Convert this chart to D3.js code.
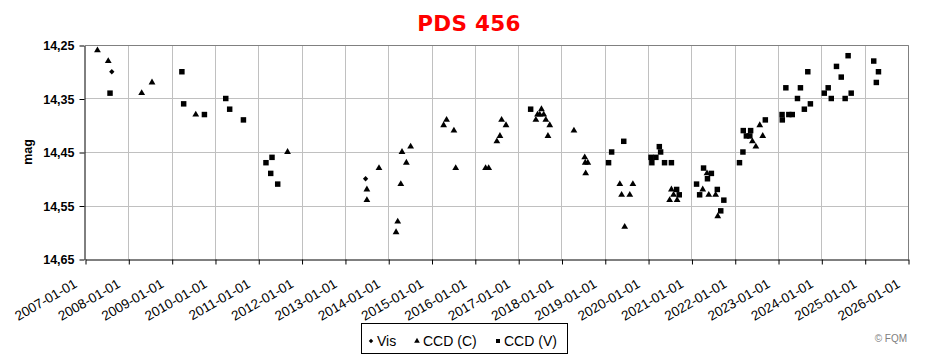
<!DOCTYPE html>
<html>
<head>
<meta charset="utf-8">
<script src="https://cdn.jsdelivr.net/npm/d3@7"></script>
<style>
	body { margin: 0; background: #fff; }
	svg { display: block; font-family: Arial, 'Liberation Sans', sans-serif; }
</style>
</head>
<body>
<svg id="chart" width="933" height="361"></svg>
<script>
// PDS 456 light curve
const visData = [
	['2007-08-15', 14.30], ['2013-06-24', 14.50]
];

const ccdcData = [
	['2007-04-16', 14.26], ['2007-07-16', 14.28], ['2008-04-23', 14.34], ['2008-07-19', 14.32],
	['2009-07-23', 14.38], ['2011-09-05', 14.45], ['2013-07-05', 14.52], ['2013-07-05', 14.54],
	['2013-10-15', 14.48], ['2014-03-08', 14.60], ['2014-03-22', 14.58], ['2014-04-17', 14.51],
	['2014-04-27', 14.45], ['2014-06-03', 14.47], ['2014-07-09', 14.44], ['2015-04-13', 14.40],
	['2015-05-08', 14.39], ['2015-07-09', 14.41], ['2015-07-24', 14.48], ['2016-04-01', 14.48],
	['2016-04-27', 14.48], ['2016-07-05', 14.43], ['2016-07-31', 14.42], ['2016-08-14', 14.39],
	['2016-09-20', 14.40], ['2017-05-30', 14.39], ['2017-06-13', 14.38], ['2017-07-02', 14.38],
	['2017-07-16', 14.37], ['2017-08-04', 14.38], ['2017-08-22', 14.39], ['2017-09-09', 14.42],
	['2017-09-24', 14.40], ['2018-04-16', 14.41], ['2018-07-16', 14.46], ['2018-07-20', 14.47],
	['2018-07-24', 14.49], ['2018-08-11', 14.47], ['2019-05-08', 14.51], ['2019-05-23', 14.53],
	['2019-06-18', 14.59], ['2019-07-31', 14.53], ['2019-08-26', 14.51], ['2020-07-01', 14.54],
	['2020-07-16', 14.52], ['2020-08-03', 14.53], ['2020-09-02', 14.54], ['2021-04-06', 14.52],
	['2021-05-12', 14.49], ['2021-05-27', 14.53], ['2021-07-24', 14.53], ['2021-08-11', 14.57],
	['2022-05-30', 14.43], ['2022-06-28', 14.44], ['2022-07-31', 14.40], ['2022-08-25', 14.42]
];

const ccdvData = [
	['2007-07-31', 14.34], ['2009-03-28', 14.30], ['2009-04-12', 14.36], ['2009-10-04', 14.38],
	['2010-04-02', 14.35], ['2010-05-05', 14.37], ['2010-08-29', 14.39], ['2011-03-07', 14.47],
	['2011-04-16', 14.49], ['2011-04-27', 14.46], ['2011-06-14', 14.51], ['2017-04-16', 14.37],
	['2019-02-02', 14.47], ['2019-02-28', 14.45], ['2019-06-10', 14.43], ['2020-01-26', 14.46],
	['2020-02-02', 14.47], ['2020-03-07', 14.46], ['2020-04-05', 14.44], ['2020-04-16', 14.45],
	['2020-05-19', 14.47], ['2020-07-16', 14.47], ['2020-08-29', 14.52], ['2020-09-20', 14.53],
	['2021-02-13', 14.51], ['2021-03-11', 14.53], ['2021-04-13', 14.48], ['2021-05-16', 14.50],
	['2021-06-18', 14.49], ['2021-08-07', 14.52], ['2021-09-05', 14.56], ['2021-10-01', 14.54],
	['2022-02-10', 14.47], ['2022-03-11', 14.45], ['2022-03-14', 14.41], ['2022-04-09', 14.42],
	['2022-05-08', 14.42], ['2022-05-15', 14.41], ['2022-09-16', 14.39], ['2023-02-06', 14.39],
	['2023-02-04', 14.38], ['2023-03-08', 14.33], ['2023-04-02', 14.38], ['2023-05-01', 14.38],
	['2023-06-14', 14.35], ['2023-07-09', 14.33], ['2023-08-11', 14.37], ['2023-09-09', 14.30],
	['2023-10-01', 14.36], ['2024-01-26', 14.34], ['2024-02-28', 14.33], ['2024-03-25', 14.35],
	['2024-05-08', 14.29], ['2024-06-17', 14.31], ['2024-07-20', 14.35], ['2024-08-14', 14.27],
	['2024-09-09', 14.34], ['2025-03-18', 14.28], ['2025-04-09', 14.32], ['2025-04-27', 14.30]
];

const seriesNames = ['Vis', 'CCD (C)', 'CCD (V)'];
const yTicks = [14.25, 14.35, 14.45, 14.55, 14.65];
const xStart = '2007-01-01';
const xEnd = '2026-01-01';

const parse = d3.timeParse('%Y-%m-%d');
const fmtDate = d3.timeFormat('%Y-%m-%d');
const fmtMag = d => d3.format('.2f')(d).replace('.', ',');

const $svg = d3.select('#chart');
const plotLeft = 85;
const plotRight = 908;
const plotTop = 45;
const plotBottom = 259;

const x = d3.scaleTime().domain([parse(xStart), parse(xEnd)]).range([plotLeft, plotRight]);
const y = d3.scaleLinear().domain([14.25, 14.65]).range([plotTop, plotBottom]);
const years = d3.timeYear.range(parse(xStart), d3.timeDay.offset(parse(xEnd), 1));

// Excel-like markers: small rotated square, triangle, square
const symbols = [
	{ sym: d3.symbol().type(d3.symbolSquare).size(14), rot: 45 },
	{ sym: d3.symbol().type(d3.symbolTriangle).size(20), rot: 0 },
	{ sym: d3.symbol().type(d3.symbolSquare).size(30), rot: 0 }
];

function drawGrid() {
	$svg.append('g')
		.selectAll('line')
		.data(years.slice(1))
		.join('line')
		.attr('x1', d => Math.round(x(d)) + 0.5)
		.attr('x2', d => Math.round(x(d)) + 0.5)
		.attr('y1', plotTop)
		.attr('y2', plotBottom)
		.attr('stroke', '#c0c0c0');

	$svg.append('g')
		.selectAll('line')
		.data(yTicks.slice(1, -1))
		.join('line')
		.attr('x1', plotLeft)
		.attr('x2', plotRight)
		.attr('y1', d => Math.round(y(d)) + 0.5)
		.attr('y2', d => Math.round(y(d)) + 0.5)
		.attr('stroke', '#c0c0c0');

	// top and right frame
	$svg.append('path')
		.attr('d', `M${plotLeft},${plotTop + 0.5}H${plotRight + 0.5}V${plotBottom}`)
		.attr('fill', 'none')
		.attr('stroke', '#808080');
}

function drawAxes() {
	const xAxis = d3.axisBottom(x)
		.tickValues(years)
		.tickSize(5)
		.tickSizeOuter(0)
		.tickFormat(fmtDate);

	const $x = $svg.append('g')
		.attr('transform', `translate(0.5,${plotBottom + 0.5})`)
		.call(xAxis);
	$x.select('.domain').attr('stroke', '#000');
	$x.selectAll('.tick line').attr('stroke', '#000');
	$x.selectAll('.tick text')
		.attr('font-size', 13.5)
		.attr('font-family', 'Arial, Liberation Sans, sans-serif')
		.attr('fill', '#000')
		.attr('text-anchor', 'end')
		.attr('dy', 0)
		.attr('y', 0)
		.attr('transform', 'translate(-8,27) rotate(-30)');

	const yAxis = d3.axisLeft(y)
		.tickValues(yTicks)
		.tickSize(5)
		.tickSizeOuter(0)
		.tickFormat(fmtMag);

	const $y = $svg.append('g')
		.attr('transform', `translate(${plotLeft - 0.5},0.5)`)
		.call(yAxis);
	$y.select('.domain').attr('stroke', '#000');
	$y.selectAll('.tick line').attr('stroke', '#000');
	$y.selectAll('.tick text')
		.attr('font-size', 12.5)
		.attr('font-weight', 'bold')
		.attr('font-family', 'Arial, Liberation Sans, sans-serif')
		.attr('fill', '#000')
		.attr('x', -10);

	$svg.append('text')
		.attr('transform', `translate(32,${(plotTop + plotBottom) / 2}) rotate(-90)`)
		.attr('text-anchor', 'middle')
		.attr('font-size', 12.5)
		.attr('font-weight', 'bold')
		.text('mag');
}

function drawPoints() {
	[visData, ccdcData, ccdvData].forEach((data, i) => {
		$svg.append('g')
			.selectAll('path')
			.data(data)
			.join('path')
			.attr('d', symbols[i].sym)
			.attr('transform', d => `translate(${x(parse(d[0]))},${y(d[1])}) rotate(${symbols[i].rot})`)
			.attr('fill', '#000');
	});
}

function drawLegend() {
	const $legend = $svg.append('g').attr('transform', 'translate(361,323)');
	$legend.append('rect')
		.attr('x', 0.5)
		.attr('y', 0.5)
		.attr('width', 206)
		.attr('height', 30)
		.attr('fill', '#fff')
		.attr('stroke', '#000');

	const markerX = [10, 56, 137];
	const legendSymbols = [
		{ sym: d3.symbol().type(d3.symbolSquare).size(10), rot: 45 },
		{ sym: d3.symbol().type(d3.symbolTriangle).size(14), rot: 0 },
		{ sym: d3.symbol().type(d3.symbolSquare).size(16), rot: 0 }
	];

	seriesNames.forEach((name, i) => {
		$legend.append('path')
			.attr('d', legendSymbols[i].sym)
			.attr('transform', `translate(${markerX[i]},18) rotate(${legendSymbols[i].rot})`)
			.attr('fill', '#000');
		$legend.append('text')
			.attr('x', markerX[i] + 6)
			.attr('y', 22.5)
			.attr('font-size', 14)
			.text(name);
	});
}

function drawTitle() {
	$svg.append('text')
		.attr('x', 469)
		.attr('y', 31)
		.attr('text-anchor', 'middle')
		.attr('font-family', "'DejaVu Sans', Verdana, sans-serif")
		.attr('font-size', 21.5)
		.attr('font-weight', 'bold')
		.attr('letter-spacing', 0.3)
		.attr('fill', '#ff0000')
		.text('PDS 456');

	$svg.append('text')
		.attr('x', 907)
		.attr('y', 342)
		.attr('text-anchor', 'end')
		.attr('font-size', 10)
		.attr('fill', '#808080')
		.text('© FQM');
}

drawGrid();
drawAxes();
drawPoints();
drawLegend();
drawTitle();
</script>
</body>
</html>
